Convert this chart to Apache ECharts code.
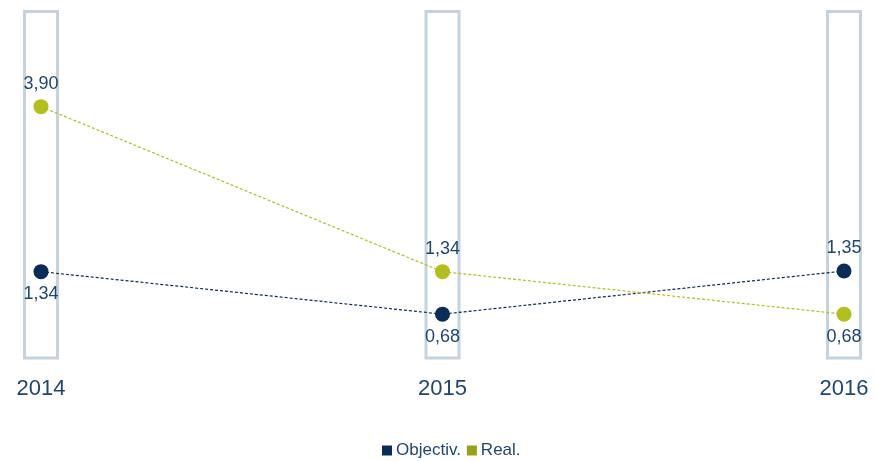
<!DOCTYPE html>
<html>
<head>
<meta charset="utf-8">
<script src="https://cdn.jsdelivr.net/npm/echarts@6/dist/echarts.min.js"></script>
<style>
  html, body { margin: 0; padding: 0; background: #fff; }
  #chart { width: 877px; height: 461px; }
</style>
</head>
<body>
<div id="chart"></div>
<script>
const years = ["2014", "2015", "2016"];
const objectiv = [1.34, 0.68, 1.35];
const real = [3.90, 1.34, 0.68];

// where each value label sits relative to its dot
const objectivLabelPos = ["bottom", "bottom", "top"];
const realLabelPos = ["top", "top", "bottom"];

const navy = "#0a2d57";
const green = "#b3bf1f";
const textColor = "#1f4670";
const fontFamily = "'Liberation Sans', Arial, sans-serif";

function fmt(v) {
  return v.toFixed(2).replace(".", ",");
}

function lineSeries(name, values, positions, color) {
  return {
    type: "line",
    name: name,
    symbol: "circle",
    symbolSize: 15,
    itemStyle: { color: color },
    lineStyle: { color: color, width: 1.2, type: [3, 2] },
    z: 3,
    data: values.map((v, i) => ({
      value: v,
      label: { position: positions[i] }
    })),
    label: {
      show: true,
      distance: 6,
      color: textColor,
      fontSize: 18,
      fontFamily: fontFamily,
      formatter: (p) => fmt(p.value)
    }
  };
}

let chart = echarts.init(document.getElementById("chart"));

chart.setOption({
  animation: false,
  grid: {
    left: 41,
    right: 33,
    top: 10,
    bottom: 103
  },
  legend: {
    bottom: 2,
    left: 382,
    padding: 0,
    data: [
      { name: "Objectiv." },
      { name: "Real.", itemStyle: { color: "#95a11b" } }
    ],
    icon: "rect",
    itemWidth: 10,
    itemHeight: 10,
    itemGap: 6,
    textStyle: {
      color: textColor,
      fontSize: 17,
      fontFamily: fontFamily,
      padding: [0, 0, 0, -1]
    }
  },
  xAxis: {
    type: "category",
    data: years,
    boundaryGap: false,
    axisLine: { show: false },
    axisTick: { show: false },
    axisLabel: {
      margin: 20,
      color: textColor,
      fontSize: 22,
      fontFamily: fontFamily
    }
  },
  yAxis: {
    type: "value",
    min: 0,
    max: 5.4,
    show: false,
    splitLine: { show: false }
  },
  series: [
    {
      // outlined frame behind each year
      type: "custom",
      name: "frame",
      silent: true,
      z: 1,
      data: years.map((y, i) => [i]),
      renderItem: function (params, api) {
        const x = api.coord([api.value(0), 0])[0];
        const cs = params.coordSys;
        return {
          type: "rect",
          shape: { x: x - 16.5, y: cs.y + 1.5, width: 33, height: cs.height - 1.5 },
          style: { fill: "none", stroke: "#c4d3dd", lineWidth: 3 }
        };
      }
    },
    lineSeries("Objectiv.", objectiv, objectivLabelPos, navy),
    lineSeries("Real.", real, realLabelPos, green)
  ]
});

window.addEventListener("resize", function () {
  chart.resize();
});
</script>
</body>
</html>
